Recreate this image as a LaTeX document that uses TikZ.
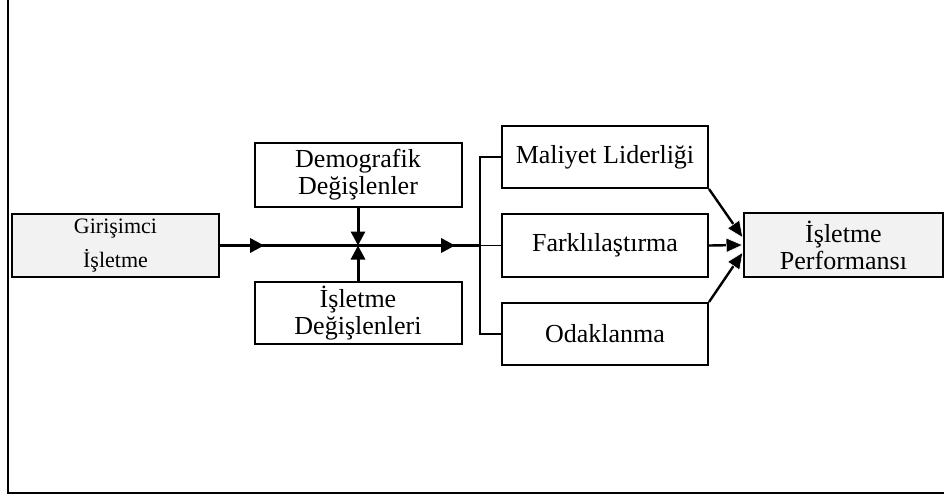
\documentclass[tikz,border=0pt]{standalone}
\usepackage{fontspec}
\setmainfont{Liberation Serif}
\usetikzlibrary{arrows.meta,decorations.markings}
\definecolor{boxgray}{RGB}{242,242,242}
\tikzset{
    blk/.style={rectangle, draw, line width=2pt, minimum width=207pt,
                minimum height=63pt, inner sep=2pt, align=center,
                font=\fontsize{26}{27}\selectfont},
    grayblk/.style={blk, fill=boxgray},
    arr/.style={-{Triangle[length=14pt,width=14pt]}, line width=3pt},
    midarr/.style={line width=3pt, postaction={decorate},
                   decoration={markings, mark=at position #1 with
                   {\arrow{Triangle[length=14pt,width=14pt]}}}},
    fanarr/.style={-{Triangle[length=17pt,width=15pt,fill=black,color=white,line width=0.5pt]},
                   line width=2.4pt},
    thinln/.style={line width=1.8pt},
}
\begin{document}
\begin{tikzpicture}[x=1pt,y=-1pt]
    \useasboundingbox (0,0) rectangle (944,495);
    % frame
    \draw[line width=1.6pt] (8,0) -- (8,493) -- (944,493);
    % boxes
    \node[grayblk, font=\fontsize{22}{34}\selectfont] (gir) at (115.5,245.5) {Girişimci\\İşletme};
    \node[blk, minimum height=64pt] (demo) at (358,175) {Demografik\\Değişlenler};
    \node[blk, minimum height=62pt] (isdeg) at (358,313) {İşletme\\Değişlenleri};
    \coordinate (j) at (358,245.5);
    \coordinate (bus) at (481,245.5);
    \node[blk, minimum width=206pt, minimum height=62pt] (mal) at (605,157) {Maliyet Liderliği};
    \node[blk, minimum width=206pt] (fark) at (605,245.5) {Farklılaştırma};
    \node[blk, minimum width=206pt, minimum height=62pt] (odak) at (605,334) {Odaklanma};
    \node[grayblk, minimum width=199pt, minimum height=64pt] (perf) at (843.5,245) {İşletme\\Performansı};
    % connectors
    \draw[midarr=0.32] (gir.east) -- (j);
    \draw[midarr=0.79] (j) -- (bus);
    \draw[arr] (demo.south) -- (j);
    \draw[arr] (isdeg.north) -- (j);
    \draw[thinln] (bus) -- (fark.west);
    \draw[thinln] (mal.west) -- ++(-21,0) |- (odak.west);
    \draw[fanarr] (mal.south east) -- ([yshift=7pt]perf.west);
    \draw[fanarr] (odak.north east) -- ([yshift=-7pt]perf.west);
    \draw[fanarr] (fark.east) -- (perf.west);
\end{tikzpicture}
\end{document}
